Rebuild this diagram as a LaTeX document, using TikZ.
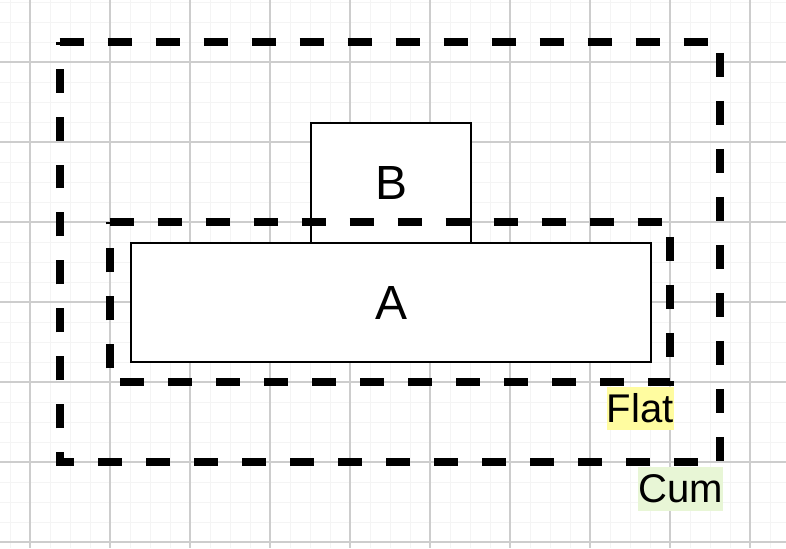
\documentclass[tikz,border=0pt]{standalone}
\usepackage{fontspec}
\setmainfont{Liberation Sans}
\definecolor{flatyellow}{RGB}{255,252,160}
\definecolor{cumgreen}{RGB}{232,246,214}
\definecolor{minorgrid}{RGB}{244,244,244}
\definecolor{majorgrid}{RGB}{205,205,205}
\tikzset{
  blockbox/.style={draw, fill=white, line width=1.1pt, inner sep=0pt,
    font=\fontsize{27.3}{30}\selectfont},
  groupbox/.style={inner sep=0pt},
  groupline/.style={line width=0.16cm, dash pattern=on 0.48cm off 0.48cm},
  tagbox/.style={inner xsep=0pt, inner ysep=0pt, minimum height=0.87cm,
    font=\fontsize{22.8}{26}\selectfont},
}
\begin{document}
\begin{tikzpicture}[x=0.02cm, y=-0.02cm]
  % page and grid
  \fill[white] (0,0) rectangle (786,548);
  \useasboundingbox (0,0) rectangle (786,548);
  \foreach \x in {10,30,...,790} \draw[minorgrid, line width=0.5pt] (\x,0) -- (\x,548);
  \foreach \y in {2,22,...,548} \draw[minorgrid, line width=0.5pt] (0,\y) -- (786,\y);
  \foreach \x in {30,110,...,790} \draw[majorgrid, line width=0.6pt] (\x,0) -- (\x,548);
  \foreach \y in {62,142,...,548} \draw[majorgrid, line width=0.6pt] (0,\y) -- (786,\y);

  % cumulative group
  \node[groupbox, minimum width=13.2cm, minimum height=8.4cm] (cum) at (390,252) {};
  \draw[groupline] (cum.north west) -- (cum.north east) -- (cum.south east)
    -- (cum.south west) -- cycle;

  % B sits on top of A
  \node[blockbox, minimum width=3.2cm, minimum height=2.4cm] (b) at (391,183) {B};

  % flat group
  \node[groupbox, minimum width=11.2cm, minimum height=3.2cm] (flat) at (390,302) {};
  \draw[groupline] (flat.north west) -- (flat.north east) -- (flat.south east)
    -- (flat.south west) -- cycle;
  \node[blockbox, minimum width=10.4cm, minimum height=2.38cm] (a) at (391,302.5) {A};

  % group labels
  \node[tagbox, fill=flatyellow, anchor=east] (flatlabel) at (674,408.5) {Flat};
  \node[tagbox, fill=cumgreen, anchor=east] (cumlabel) at (723,489) {Cum};
\end{tikzpicture}
\end{document}
